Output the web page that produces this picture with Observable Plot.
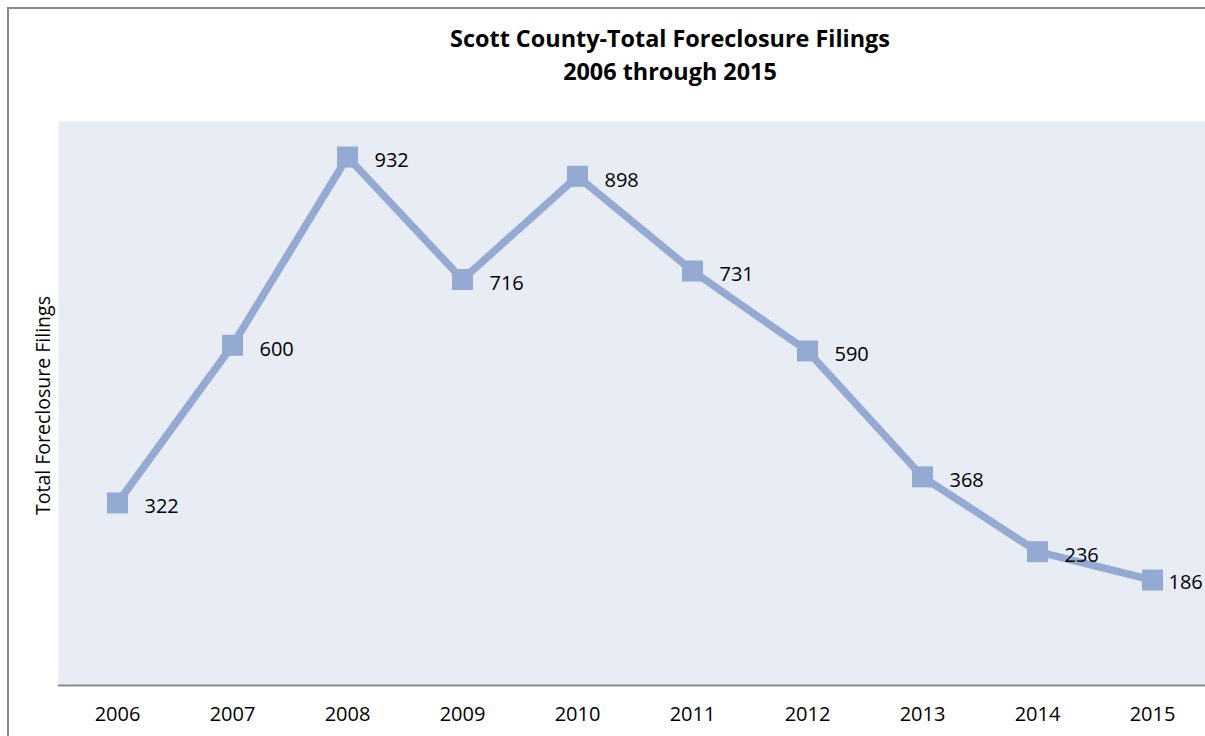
<!DOCTYPE html>
<html>
<head>
<meta charset="utf-8">
<script src="https://cdn.jsdelivr.net/npm/d3@7"></script>
<script src="https://cdn.jsdelivr.net/npm/@observablehq/plot@0.6"></script>
<style>
  html, body { margin: 0; padding: 0; background: #fff; overflow: hidden; width: 1205px; height: 736px; }
  #bTop { position: absolute; left: 7px; top: 7px; width: 1198px; height: 1.5px; background: #8c8c8c; }
  #bLeft { position: absolute; left: 7px; top: 7px; width: 1.5px; height: 729px; background: #8c8c8c; }
  #title { position: absolute; left: 0; top: 22px; width: 1340px; text-align: center;
           font-family: "Open Sans", sans-serif; font-weight: bold; font-size: 23.4px;
           line-height: 33px; color: #000; white-space: nowrap; }
  #chart { position: absolute; left: 0; top: 120px; }
</style>
</head>
<body>
<div id="bTop"></div>
<div id="bLeft"></div>
<div id="title">Scott County-Total Foreclosure Filings<br>2006 through 2015</div>
<div id="chart"></div>
<script>
const years = ["2006","2007","2008","2009","2010","2011","2012","2013","2014","2015"];
const filings = [322, 600, 932, 716, 898, 731, 590, 368, 236, 186];
const yLabel = "Total Foreclosure Filings";

const data = years.map((y, i) => ({year: y, value: filings[i]}));
const inner = data.slice(0, -1);
const last = data.slice(-1);
const font = "'Open Sans', sans-serif";
const lineColor = "#94aad3";

const chart = Plot.plot({
  width: 1205,
  height: 616,
  marginLeft: 58,
  marginRight: 0,
  marginTop: 1,
  marginBottom: 51,
  style: {fontFamily: font, background: "transparent", overflow: "visible"},
  x: {type: "point", domain: years, range: [115, 1153], padding: 0, axis: null},
  y: {domain: [0, 1000], range: [565, -2], axis: null},
  marks: [
    Plot.frame({fill: "#e8ecf4", stroke: null}),
    Plot.ruleY([0], {stroke: "#8c8c8c", strokeWidth: 2}),
    Plot.line(data, {x: "year", y: "value", stroke: lineColor, strokeWidth: 7.5, strokeLinejoin: "miter"}),
    Plot.dot(data, {x: "year", y: "value", symbol: "square", r: 11.85, fill: lineColor, stroke: null}),
    Plot.text(inner, {x: "year", y: "value", text: d => String(d.value), textAnchor: "start", dx: 27, dy: 4, fontSize: 20, fill: "#000"}),
    Plot.text(last, {x: "year", y: "value", text: d => String(d.value), textAnchor: "start", dx: 16, dy: 3, fontSize: 20, fill: "#000"}),
    Plot.text(years, {x: d => d, frameAnchor: "bottom", dy: 35, fontSize: 20, fill: "#000"}),
    Plot.text([yLabel], {frameAnchor: "left", textAnchor: "middle", dx: -15, dy: 2, rotate: -90, fontSize: 19.5, fill: "#000"})
  ]
});
document.getElementById("chart").appendChild(chart);
</script>
</body>
</html>
